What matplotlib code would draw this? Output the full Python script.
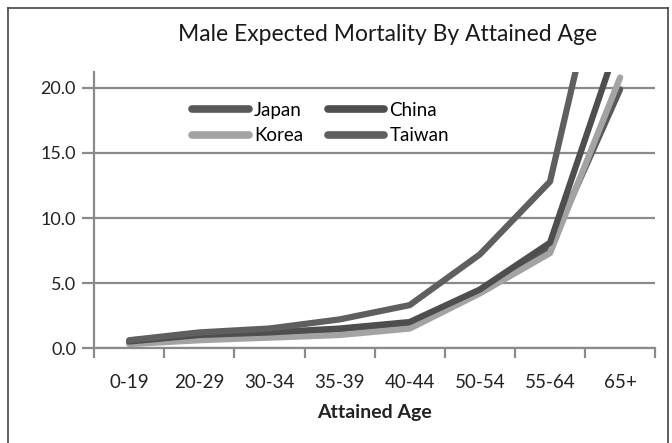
import matplotlib.pyplot as plt
from matplotlib.lines import Line2D
import numpy as np

# data
ages = ['0-19', '20-29', '30-34', '35-39', '40-44', '50-54', '55-64', '65+']
japan = [0.4, 0.8, 1.0, 1.3, 1.9, 4.3, 7.8, 19.9]
china = [0.5, 1.0, 1.2, 1.5, 2.0, 4.5, 8.1, 24.0]
korea = [0.3, 0.6, 0.8, 1.0, 1.5, 4.2, 7.3, 20.8]
taiwan = [0.6, 1.2, 1.5, 2.2, 3.3, 7.2, 12.8, 36.0]

plt.rcParams['font.family'] = ['Lato', 'DejaVu Sans']

fig = plt.figure(figsize=(6.72, 4.43), dpi=100)
ax = fig.add_axes([0.140, 0.2144, 0.835, 0.6222])

x = np.arange(len(ages))
lw = 4.5
h_jp, = ax.plot(x, japan, color='#585858', lw=lw, solid_capstyle='round', label='Japan')
h_kr, = ax.plot(x, korea, color='#a3a3a3', lw=lw, solid_capstyle='round', label='Korea')
h_cn, = ax.plot(x, china, color='#4e4e4e', lw=lw, solid_capstyle='round', label='China')
h_tw, = ax.plot(x, taiwan, color='#5f5f5f', lw=lw, solid_capstyle='round', label='Taiwan')

ax.set_xlim(-0.5, len(ages) - 0.5)
ax.set_ylim(0, 21.2)
ax.set_yticks([0, 5, 10, 15, 20])
ax.set_yticklabels([f'{v:.1f}' for v in [0, 5, 10, 15, 20]], fontsize=13, color='#222222')
ax.yaxis.grid(True, color='#8a8a8a', lw=1.6)
ax.set_axisbelow(True)

ax.set_xticks(np.arange(len(ages) + 1) - 0.5)
ax.set_xticklabels([])
ax.set_xticks(x, minor=True)
ax.set_xticklabels(ages, minor=True, fontsize=13.5, color='#222222')
ax.tick_params(axis='x', which='major', length=7, width=1.6, color='#8a8a8a', direction='out')
ax.tick_params(axis='x', which='minor', length=0, pad=19)
ax.tick_params(axis='y', length=9, width=1.6, color='#8a8a8a', pad=4)

for s in ['top', 'right']:
    ax.spines[s].set_visible(False)
for s in ['left', 'bottom']:
    ax.spines[s].set_color('#8a8a8a')
    ax.spines[s].set_linewidth(1.6)

ax.set_xlabel('Attained Age', fontsize=14, fontweight='bold', labelpad=9, color='#222222')

ax.legend([h_jp, h_kr, h_cn, h_tw], ['Japan', 'Korea', 'China', 'Taiwan'],
          ncol=2, frameon=False, fontsize=13.5, handlelength=3.0,
          handletextpad=0.3, columnspacing=1.3, labelspacing=0.45,
          loc='upper left', bbox_to_anchor=(0.145, 0.955))
for line in ax.get_legend().get_lines():
    line.set_linewidth(5.5)

fig.text(0.577, 0.921, 'Male Expected Mortality By Attained Age',
         ha='center', va='center', fontsize=16.5, color='#1a1a1a')

# outer frame
frame_kw = dict(color='#444444', lw=1.2, transform=fig.transFigure)
fig.add_artist(Line2D([0.012, 0.012], [0, 0.982], **frame_kw))
fig.add_artist(Line2D([0.012, 0.994], [0.982, 0.982], **frame_kw))
fig.add_artist(Line2D([0.994, 0.994], [0, 0.982], **frame_kw))

fig.savefig('out.png', dpi=100)
